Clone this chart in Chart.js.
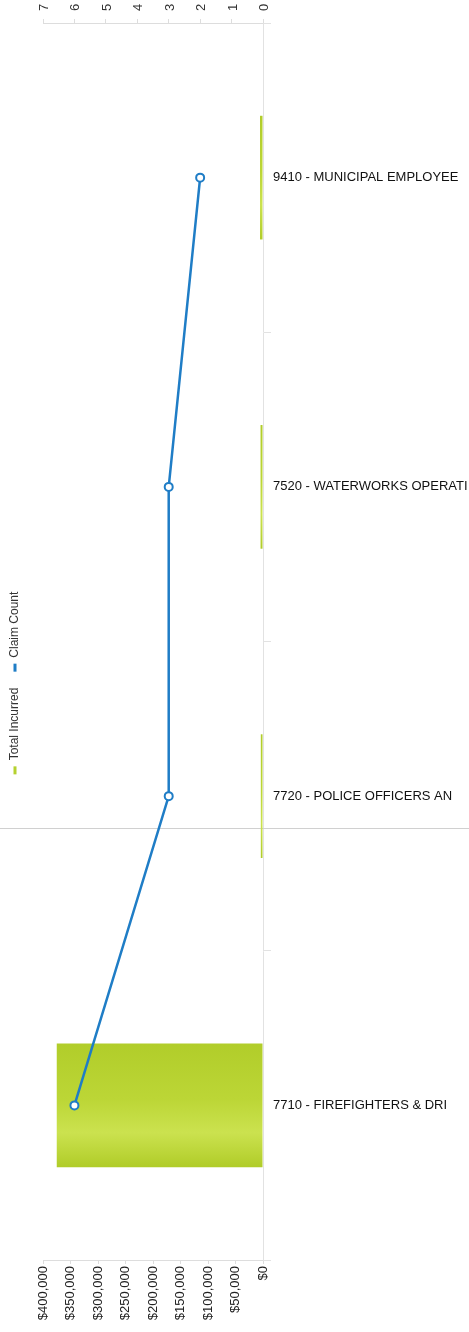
<!DOCTYPE html>
<html>
<head>
<meta charset="utf-8">
<script src="https://cdn.jsdelivr.net/npm/chart.js@4.4.0/dist/chart.umd.min.js"></script>
<style>
  body { margin: 0; background: #fff; }
  .wrap { width: 469px; height: 1332px; position: relative; }
</style>
</head>
<body>
<div class="wrap"><canvas class="myChart" width="469" height="1332"></canvas></div>
<script>
var classCodes = [
  "9410 - MUNICIPAL EMPLOYEE",
  "7520 - WATERWORKS OPERATI",
  "7720 - POLICE OFFICERS AN",
  "7710 - FIREFIGHTERS & DRI"
];
var totalIncurred = [5500, 4500, 4000, 375000];
var claimCount = [2, 3, 3, 6];
var dollarTicks = [0, 50000, 100000, 150000, 200000, 250000, 300000, 350000, 400000];
var countTicks = [0, 1, 2, 3, 4, 5, 6, 7];

var green = "#b5d12f";
var blue = "#1f7dc6";

Chart.defaults.font.family = "'Liberation Sans', Arial, sans-serif";
Chart.defaults.font.size = 13;
Chart.defaults.color = "#222";

// legend is drawn turned on its side, like the rest of the picture
var sideLegend = {
  id: "sideLegend",
  beforeDatasetsDraw: function (chart) {
    var ctx = chart.ctx;
    // faint rule that crosses the whole picture
    ctx.save();
    ctx.strokeStyle = "#d0d0d0";
    ctx.lineWidth = 1;
    ctx.beginPath();
    ctx.moveTo(0, 828.5);
    ctx.lineTo(chart.width, 828.5);
    ctx.stroke();
    ctx.restore();
  },
  afterDraw: function (chart) {
    var ctx = chart.ctx;
    var sets = chart.data.datasets;
    ctx.save();
    ctx.font = "12px 'Liberation Sans', Arial, sans-serif";
    ctx.textBaseline = "middle";
    var total = 0;
    sets.forEach(function (d) {
      total += 14 + ctx.measureText(d.label).width + 16;
    });
    total -= 16;
    ctx.translate(15, 683);
    ctx.rotate(-Math.PI / 2);
    var x = -total / 2;
    sets.forEach(function (d) {
      ctx.fillStyle = d.legendColor;
      ctx.fillRect(x, -1.5, 8, 3);
      x += 14;
      ctx.fillStyle = "#333";
      ctx.fillText(d.label, x, 0);
      x += ctx.measureText(d.label).width + 16;
    });
    ctx.restore();
  }
};

var chart = new Chart(document.querySelector(".myChart").getContext("2d"), {
  type: "bar",
  data: {
    labels: classCodes,
    datasets: [
      {
        label: "Total Incurred",
        data: totalIncurred,
        xAxisID: "x",
        backgroundColor: function (c) {
          var area = c.chart.chartArea;
          if (!area) return green;
          var yS = c.chart.scales.y;
          var mid = yS.getPixelForValue(c.dataIndex);
          var half = 62;
          var g = c.chart.ctx.createLinearGradient(0, mid - half, 0, mid + half);
          g.addColorStop(0, "#b1cd2a");
          g.addColorStop(0.45, "#bcd636");
          g.addColorStop(0.72, "#cbe24f");
          g.addColorStop(1, "#b0cc28");
          return g;
        },
        legendColor: green,
        barPercentage: 0.5,
        categoryPercentage: 0.8,
        order: 1
      },
      {
        type: "line",
        label: "Claim Count",
        data: claimCount,
        xAxisID: "x2",
        borderColor: blue,
        borderWidth: 2.5,
        pointRadius: 4,
        pointBorderWidth: 2,
        pointBackgroundColor: "#fff",
        pointBorderColor: blue,
        legendColor: blue,
        order: 0
      }
    ]
  },
  options: {
    indexAxis: "y",
    animation: false,
    responsive: false,
    layout: { padding: { left: 43, right: 0, top: 0, bottom: 0 } },
    plugins: {
      legend: { display: false },
      tooltip: { enabled: false }
    },
    scales: {
      x: {
        position: "bottom",
        reverse: true,
        min: 0,
        max: 400000,
        afterBuildTicks: function (s) {
          s.ticks = dollarTicks.map(function (v) { return { value: v }; });
        },
        afterFit: function (s) { s.height = 72; },
        grid: { drawOnChartArea: false, color: "#ddd", tickLength: 4 },
        border: { color: "#ddd" },
        ticks: {
          minRotation: 90,
          maxRotation: 90,
          autoSkip: false,
          padding: 2,
          color: "#222",
          callback: function (v) { return "$" + Number(v).toLocaleString("en-US"); }
        }
      },
      x2: {
        position: "top",
        reverse: true,
        min: 0,
        max: 7,
        afterBuildTicks: function (s) {
          s.ticks = countTicks.map(function (v) { return { value: v }; });
        },
        afterFit: function (s) { s.height = 23; },
        grid: { drawOnChartArea: false, color: "#ddd", tickLength: 4 },
        border: { color: "#ddd" },
        ticks: { minRotation: 90, maxRotation: 90, autoSkip: false, padding: 8, labelOffset: 17, color: "#333" }
      },
      y: {
        position: "right",
        afterFit: function (s) { s.width = 206; },
        grid: { drawOnChartArea: false, color: "#e2e2e2", tickLength: 8 },
        border: { color: "#e2e2e2" },
        ticks: { padding: 2, color: "#111" }
      }
    }
  },
  plugins: [sideLegend]
});
</script>
</body>
</html>
